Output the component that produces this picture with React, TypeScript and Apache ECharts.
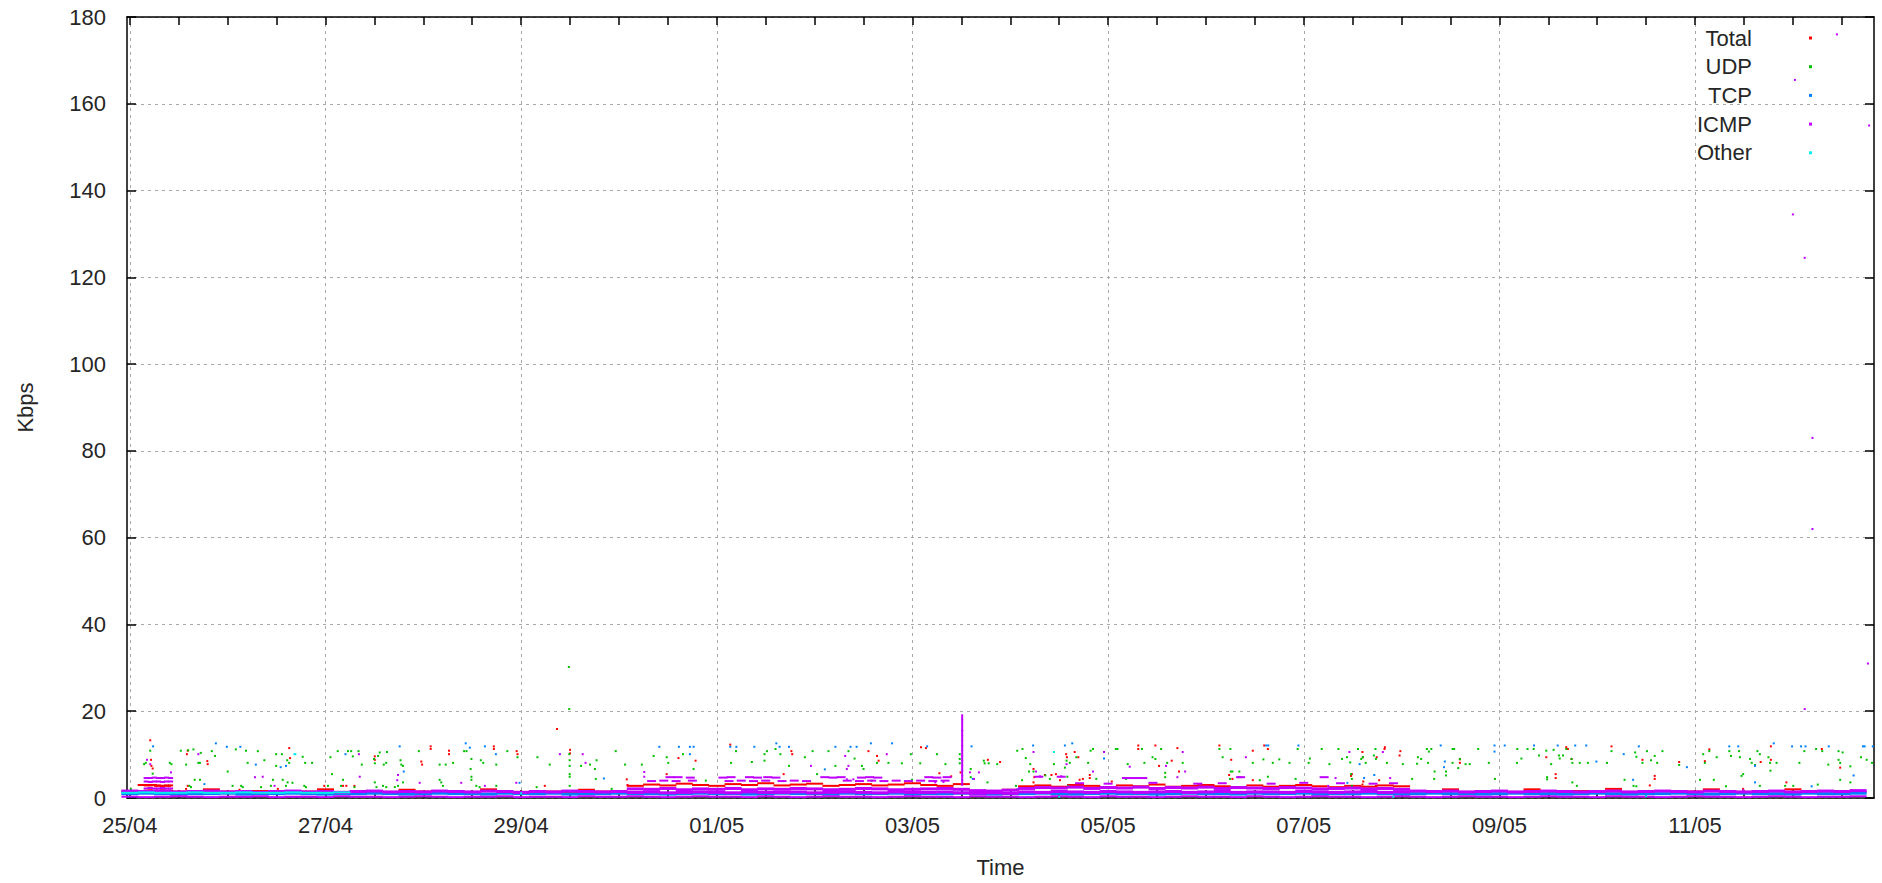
import React, { useEffect, useRef } from "react";
import * as echarts from "echarts";

// ---------- data ----------
const START_DATE_UTC = Date.UTC(2000, 3, 25); // 25/04, x values are hours since then
const X_MIN_HOURS = -0.7;
const X_MAX_HOURS = 427.9;
const BASE_STEP = 4; // hours between the baseline samples
const MID_START = 124; // first hour of the icmpMid samples

const legendNames = ["Total", "UDP", "TCP", "ICMP", "Other"];
const yTicks = [0, 20, 40, 60, 80, 100, 120, 140, 160, 180];
// x ticks every 12 h, labels / grid every 48 h (hours since 25/04 00:00)
const xTickHours = [
  0, 12, 24, 36, 48, 60, 72, 84, 96, 108, 120, 132, 144, 156, 168, 180, 192, 204, 216, 228, 240,
  252, 264, 276, 288, 300, 312, 324, 336, 348, 360, 372, 384, 396, 408, 420,
];
const xLabelHours = [0, 48, 96, 144, 192, 240, 288, 336, 384];

// baseline samples every 4 h (Kbps)
const totalBase = [
  1.5, 3.0, 2.8, 1.5, 1.4, 2.0, 1.5, 1.4, 1.6, 1.5,
  1.4, 1.5, 2.0, 1.4, 1.5, 1.6, 1.4, 1.9, 1.5, 1.4,
  1.5, 1.4, 2.0, 1.5, 1.4, 1.6, 1.5, 1.4, 1.9, 1.5,
  1.4, 2.8, 3.1, 2.9, 3.3, 3.0, 2.8, 3.2, 3.0, 3.4,
  2.9, 3.1, 3.3, 2.8, 3.0, 3.2, 2.9, 3.1, 3.4, 3.0,
  2.8, 3.2, 1.6, 1.5, 1.9, 2.7, 2.9, 2.6, 3.0, 2.8,
  2.5, 2.9, 2.7, 3.1, 2.6, 2.8, 3.0, 2.7, 2.5, 2.9,
  2.6, 2.8, 3.0, 2.7, 2.5, 2.8, 2.6, 2.9, 2.7, 1.5,
  1.5, 2.0, 1.4, 1.5, 1.6, 1.4, 2.0, 1.5, 1.4, 1.6,
  1.5, 2.1, 1.4, 1.5, 1.6, 1.4, 1.5, 2.0, 1.5, 1.4,
  1.5, 1.6, 2.0, 1.4, 1.5, 1.6, 1.4, 1.5,
];
const icmpHigh = [
  1.6, 1.5, 1.6, 1.4, 1.5, 1.6, 1.4, 1.5, 1.3, 1.5,
  1.6, 1.4, 1.5, 1.3, 1.5, 1.6, 1.4, 1.5, 1.4, 1.6,
  1.5, 1.4, 1.6, 1.5, 1.3, 1.5, 1.4, 1.6, 1.5, 1.4,
  1.5, 2.1, 2.0, 2.2, 1.9, 2.1, 2.0, 2.2, 1.9, 2.1,
  2.0, 2.2, 2.1, 1.9, 2.0, 2.2, 2.1, 1.9, 2.0, 2.1,
  2.2, 2.0, 1.7, 1.6, 1.8, 2.2, 2.4, 2.3, 2.5, 2.2,
  2.4, 2.3, 2.5, 2.2, 2.4, 2.3, 2.5, 2.2, 2.4, 2.3,
  2.2, 2.4, 2.3, 2.1, 2.2, 2.3, 2.1, 2.2, 2.0, 1.6,
  1.5, 1.6, 1.4, 1.5, 1.6, 1.4, 1.5, 1.6, 1.5, 1.4,
  1.5, 1.6, 1.4, 1.5, 1.6, 1.5, 1.4, 1.6, 1.5, 1.4,
  1.5, 1.6, 1.4, 1.5, 1.6, 1.5, 1.7, 1.5,
];
const icmpLow = [
  0.3, 0.2, 0.3, 0.4, 0.3, 0.2, 0.3, 0.3, 0.4, 0.2,
  0.3, 0.3, 0.2, 0.4, 0.3, 0.3, 0.2, 0.3, 0.4, 0.3,
  0.2, 0.3, 0.3, 0.4, 0.2, 0.3, 0.3, 0.2, 0.4, 0.3,
  0.3, 0.4, 0.3, 0.2, 0.3, 0.4, 0.3, 0.3, 0.2, 0.4,
  0.3, 0.2, 0.3, 0.4, 0.3, 0.3, 0.2, 0.3, 0.4, 0.3,
  0.3, 0.2, 0.4, 0.3, 0.3, 0.2, 0.3, 0.4, 0.3, 0.2,
  0.4, 0.3, 0.3, 0.2, 0.3, 0.4, 0.3, 0.3, 0.2, 0.4,
  0.3, 0.2, 0.3, 0.4, 0.3, 0.3, 0.2, 0.3, 0.4, 0.3,
  0.2, 0.3, 0.4, 0.3, 0.3, 0.2, 0.3, 0.4, 0.3, 0.3,
  0.2, 0.4, 0.3, 0.3, 0.2, 0.3, 0.4, 0.3, 0.3, 0.2,
  0.3, 0.4, 0.3, 0.2, 0.3, 0.3, 0.4, 0.3,
];
const icmpMid = [
  1.3, 1.4, 1.2, 1.3, 1.4, 1.3, 1.2, 1.4, 1.3, 1.3, 1.4, 1.2, 1.3, 1.4, 1.3, 1.2, 1.4, 1.3, 1.3, 1.4, 1.2,
  1.1, 1.2, 1.1,
  1.4, 1.3, 1.5, 1.4, 1.3, 1.5, 1.4, 1.3, 1.4, 1.5, 1.3, 1.4, 1.5, 1.3, 1.4, 1.4, 1.3, 1.5, 1.4, 1.3, 1.4, 1.5, 1.3, 1.4,
];
const tcpBase = [
  1.0, 1.1, 1.0, 0.9, 1.0, 1.0, 1.1, 0.9, 1.0, 1.0,
  1.1, 1.0, 0.9, 1.0, 1.0, 1.1, 1.0, 0.9, 1.0, 1.1,
  1.0, 1.0, 0.9, 1.1, 1.0, 1.0, 1.1, 0.9, 1.0, 1.0,
  1.1, 1.0, 1.0, 0.9, 1.0, 1.1, 1.0, 1.0, 0.9, 1.0,
  1.1, 1.0, 1.0, 0.9, 1.1, 1.0, 1.0, 1.1, 0.9, 1.0,
  1.0, 1.1, 1.0, 0.9, 1.0, 1.0, 1.1, 1.0, 0.9, 1.0,
  1.1, 1.0, 1.0, 0.9, 1.0, 1.1, 1.0, 1.0, 0.9, 1.1,
  1.0, 1.0, 1.1, 0.9, 1.0, 1.0, 1.1, 1.0, 0.9, 1.0,
  1.1, 1.0, 1.0, 0.9, 1.0, 1.1, 1.0, 1.0, 0.9, 1.0,
  1.1, 1.0, 0.9, 1.0, 1.0, 1.1, 1.0, 0.9, 1.0, 1.1,
  1.0, 1.0, 0.9, 1.1, 1.0, 1.0, 1.1, 1.0,
];
const otherBase = [
  [0, 1.2], [4, 1.3], [8, 1.2], [12, 1.2], [16, 1.3], [20, 1.2], [24, 1.2],
  [28, 1.3], [32, 1.2], [36, 1.2], [40, 1.3], [44, 1.2], [48, 1.2], [52, 1.3],
];

// dense bursts [hour, Kbps]
const totalBurst = [
  [4, 2.9], [5, 2.9], [6, 3.0], [7, 2.9], [8, 2.8], [9, 2.9], [10, 2.9],
  [4, 1.7], [5, 1.8], [6, 1.7], [7, 1.7], [8, 1.8], [9, 1.7], [10, 1.7],
];
const icmpBurst = [
  [4, 4.6], [5, 4.6], [6, 4.7], [7, 4.6], [8, 4.6], [9, 4.7], [10, 4.6],
  [4, 3.8], [5, 3.7], [6, 3.8], [7, 3.8], [8, 3.7], [9, 3.8], [10, 3.8],
  [4, 2.2], [5, 2.3], [6, 2.2], [7, 2.2], [8, 2.3], [9, 2.2], [10, 2.2],
];
const icmpTop = [
  [132.5, 4.8], [134.5, 4.8], [137.5, 4.7], [145.5, 4.7], [147.5, 4.8], [152, 4.8], [154, 4.7],
  [156.5, 4.8], [158.5, 4.7], [170.5, 4.8], [172.5, 4.7], [174.5, 4.8], [179.5, 4.7], [181.5, 4.8],
  [183.5, 4.7], [196, 4.8], [198, 4.7], [200.5, 4.8],
  [128, 3.9], [131, 4.0], [134, 3.9], [138, 4.0], [147, 3.9], [150, 4.0], [153, 3.9], [156, 4.0],
  [160, 3.9], [163, 4.0], [166, 3.9], [176, 4.0], [179, 3.9], [182, 4.0], [185, 3.9], [188, 4.0],
  [191, 3.9], [194, 4.0], [197, 3.9], [200, 4.0],
  [223, 4.9], [228.5, 4.9], [244.5, 4.6], [246.5, 4.6], [248.5, 4.6], [272.5, 4.8], [293, 4.8],
  [233, 3.4], [240, 3.3], [251, 3.5], [262, 3.3], [268, 3.4], [280, 3.3], [288, 3.5], [297, 3.4],
  [305, 3.3], [310, 3.4],
];
const icmpSpike = [
  [204.2, 18.6], [204.2, 17.4], [204.2, 16.1], [204.2, 15.0], [204.2, 13.8], [204.2, 12.6], [204.2, 11.5],
  [204.2, 10.3], [204.2, 9.2], [204.2, 8.1], [204.2, 6.9], [204.2, 5.8], [204.2, 4.6], [204.2, 3.5],
];

// scattered samples [hour, Kbps]
const totalPoints = [
  [5.0, 13.3], [5.2, 8.8], [5.3, 7.4], [5.6, 6.8], [14.2, 10.9], [14.0, 10.1], [19.0, 8.5], [19.1, 7.8],
  [39.1, 11.5], [39.3, 9.2], [47.7, 2.8], [52.3, 2.8], [53.1, 2.8], [55.1, 2.8], [60.1, 9.6], [60.1, 8.8],
  [71.5, 8.4], [71.7, 7.7], [73.8, 11.9], [73.8, 11.3], [78.3, 10.9], [78.3, 10.1], [89.3, 11.9], [89.3, 11.3],
  [14.2, 2.8], [13.8, 2.1], [26.9, 1.9], [36.3, 2.1],
  [94.9, 10.8], [95.1, 10.1], [104.8, 15.9], [108.0, 11.1], [108.0, 10.3], [121.9, 4.3], [122.1, 3.0],
  [134.6, 9.2], [138.8, 8.6], [147.3, 12.3], [162.3, 10.8], [162.5, 10.1], [181.2, 10.8], [183.3, 9.7],
  [183.7, 8.6], [131.7, 5.5], [160.4, 5.5], [101.8, 2.8],
  [194.1, 11.7], [195.3, 11.5], [198.6, 5.7], [201.5, 5.0], [210.5, 8.8], [213.5, 8.3], [203.8, 5.9],
  [221.7, 6.7], [221.9, 4.8], [221.7, 3.6], [226.1, 5.3], [227.2, 5.5], [228.2, 4.1], [231.8, 10.6],
  [232.7, 9.4], [235.5, 4.6], [235.5, 5.3], [240.9, 3.8], [247.4, 12.1], [247.4, 11.3], [251.6, 12.1],
  [252.5, 7.4], [255.6, 8.6], [257.0, 11.5], [257.4, 6.1], [267.3, 12.1], [270.2, 8.8], [269.7, 5.3],
  [270.5, 4.4], [275.5, 10.9], [275.5, 4.1], [278.3, 12.1], [279.2, 11.3], [229.7, 10.1], [229.9, 9.4],
  [233.0, 4.2], [233.8, 4.4], [224.5, 5.3],
  [299.8, 5.5], [302.6, 3.8], [305.9, 9.4], [306.5, 4.1], [307.9, 11.7], [311.7, 10.8], [302.4, 10.6],
  [302.5, 9.4], [307.8, 11.3], [311.5, 9.8], [299.6, 5.1], [302.4, 3.1], [326.3, 8.9], [326.3, 8.1],
  [347.5, 9.4], [349.8, 5.5], [349.8, 4.6], [352.4, 11.7], [352.8, 11.3], [353.7, 9.0], [305.7, 2.8],
  [363.5, 11.9], [371.1, 8.8], [374.1, 5.1], [374.1, 4.4], [380.1, 8.3], [386.4, 8.5], [387.5, 11.2],
  [400.1, 8.3], [402.6, 11.9], [402.6, 8.8], [406.4, 3.6], [415.1, 11.3], [419.6, 7.0], [422.5, 1.8],
  [372.9, 2.9], [395.8, 2.1],
];
const udpPoints = [
  [3.5, 7.8], [3.9, 8.1], [5.6, 5.6], [5.0, 10.9], [9.8, 8.1], [10.2, 7.8], [12.5, 10.9], [14.3, 11.0],
  [15.6, 11.2], [13.8, 7.7], [16.8, 8.1], [17.2, 8.1], [17.4, 10.4], [20.1, 10.8], [20.9, 9.7], [24.0, 6.1],
  [26.0, 11.2], [28.5, 10.9], [28.9, 8.1], [31.4, 10.8], [33.0, 8.7], [35.9, 10.1], [35.9, 7.4], [37.3, 10.1],
  [38.6, 8.7], [39.1, 8.1], [42.4, 9.5], [43.0, 8.1], [44.7, 8.1], [49.2, 9.4], [51.0, 10.8], [53.5, 10.8],
  [54.3, 10.8], [54.7, 9.6], [56.1, 10.8], [56.9, 7.7], [61.3, 10.5], [60.9, 9.7], [59.9, 9.0], [60.1, 8.0],
  [62.3, 7.7], [63.1, 10.6], [62.9, 8.1], [66.4, 8.7], [66.6, 7.7], [67.0, 7.4], [70.9, 10.8], [76.0, 7.7],
  [77.5, 7.7], [79.3, 8.1], [82.0, 10.8], [82.6, 10.8], [83.8, 9.0], [83.6, 6.7], [83.8, 4.9], [83.8, 4.2],
  [86.1, 8.7], [86.7, 8.1], [89.9, 7.7],
  [15.9, 4.2], [17.2, 4.2], [25.2, 2.8], [27.3, 2.8], [27.7, 2.5], [32.2, 2.5], [34.6, 2.8], [35.1, 4.2],
  [37.5, 4.2], [38.7, 3.6], [38.3, 2.8], [39.9, 3.5], [42.8, 2.8], [43.2, 2.5], [48.6, 2.8], [49.6, 5.5],
  [52.3, 4.2], [51.8, 2.8], [55.1, 2.5], [60.1, 3.6], [60.5, 2.5], [62.1, 2.8], [62.9, 2.5], [65.0, 2.5],
  [65.8, 2.8], [67.0, 3.6], [76.0, 4.2], [76.4, 3.6], [76.8, 2.8], [85.0, 2.8], [85.8, 2.5], [89.9, 2.8],
  [0.25, 2.1], [14.6, 2.8], [15.0, 2.5],
  [92.6, 10.8], [95.1, 9.4], [100.0, 9.4], [103.0, 7.7], [107.7, 30.2], [107.8, 20.5], [107.8, 10.1],
  [107.9, 8.7], [107.9, 7.4], [107.9, 5.5], [107.9, 4.9], [107.9, 2.8], [110.7, 7.4], [112.9, 7.7],
  [114.1, 6.7], [114.5, 8.7], [114.3, 4.4], [118.2, 2.1], [119.2, 10.8], [121.5, 7.7], [125.6, 7.7],
  [128.5, 9.7], [131.7, 9.4], [132.1, 8.1], [135.7, 10.1], [138.3, 6.7], [141.3, 4.0], [147.5, 8.1],
  [148.7, 10.8], [152.6, 8.3], [155.7, 10.1], [155.7, 8.6], [156.3, 10.8], [158.4, 11.3], [159.6, 10.1],
  [161.7, 7.4], [165.6, 9.4], [167.5, 10.8], [168.6, 5.5], [171.4, 10.8], [173.1, 7.4], [176.3, 10.8],
  [177.8, 9.1], [179.6, 7.4], [180.0, 6.7], [182.0, 4.0], [183.3, 8.1], [186.1, 8.1], [99.8, 2.5],
  [189.4, 8.0], [191.6, 10.1], [193.9, 8.0], [198.0, 10.1], [200.1, 7.8], [203.6, 10.1], [203.6, 9.0],
  [203.6, 8.0], [206.3, 6.7], [209.5, 8.6], [209.7, 8.0], [210.7, 8.0], [212.8, 7.8], [217.7, 10.9],
  [217.4, 2.8], [191.9, 4.2], [206.3, 4.8], [210.4, 3.6],
  [219.0, 11.3], [219.8, 9.2], [220.9, 7.8], [220.6, 6.1], [221.7, 6.1], [218.9, 4.1], [224.6, 5.2],
  [225.7, 4.4], [226.7, 7.8], [229.4, 7.0], [229.8, 8.6], [230.0, 4.9], [230.2, 2.8], [230.6, 8.1],
  [232.2, 9.4], [235.1, 8.1], [235.7, 10.9], [236.3, 11.3], [237.1, 4.4], [241.9, 11.3], [242.3, 11.3],
  [244.4, 4.4], [244.8, 7.8], [248.3, 11.3], [248.9, 8.1], [250.9, 9.4], [251.6, 9.0], [253.0, 11.3],
  [254.0, 5.8], [254.0, 4.8], [254.5, 8.1], [258.3, 8.1], [267.3, 11.3], [268.1, 9.4], [270.0, 11.3],
  [270.1, 6.1], [270.5, 6.1], [272.2, 6.1], [269.9, 4.4], [271.9, 4.8], [275.5, 8.1], [277.2, 4.1],
  [278.1, 8.9], [279.2, 4.9], [280.4, 8.1], [282.0, 8.9], [284.5, 8.1], [286.0, 4.4], [286.5, 11.3],
  [289.2, 8.1], [289.5, 9.1], [292.4, 11.3], [294.3, 7.8], [296.5, 11.3], [297.4, 9.0], [298.6, 9.4],
  [299.4, 8.2], [299.6, 5.5], [299.8, 4.4], [301.3, 11.3], [302.1, 9.0], [302.5, 9.4], [303.2, 8.1],
  [305.2, 9.8], [305.6, 11.3], [305.7, 9.0], [308.4, 8.1], [312.3, 7.8], [314.6, 4.4], [316.0, 9.4],
  [316.8, 9.0], [315.8, 7.9], [318.2, 11.3], [319.3, 11.3], [318.7, 10.7], [318.5, 8.1], [320.1, 6.1],
  [320.0, 4.4], [322.9, 6.1], [322.9, 5.2], [324.5, 11.3], [324.9, 11.3], [324.5, 8.1], [325.9, 6.9],
  [326.3, 9.0], [327.7, 7.8], [328.7, 7.8], [330.8, 11.3], [333.4, 8.1], [334.9, 4.4], [340.4, 11.3],
  [341.4, 9.1], [340.3, 8.1], [342.9, 11.3], [344.4, 11.3], [345.7, 9.8], [347.5, 10.9], [347.7, 4.8],
  [347.7, 4.3], [348.7, 7.8], [349.3, 11.1], [350.6, 9.8], [350.8, 9.1], [351.6, 9.8], [352.4, 11.3],
  [353.7, 9.0], [353.9, 8.1], [353.9, 3.6], [355.7, 8.1], [357.7, 8.1], [355.0, 2.8], [299.8, 2.8],
  [363.5, 10.8], [362.4, 8.1], [366.7, 4.2], [369.3, 10.5], [369.6, 9.5], [371.1, 8.1], [372.2, 10.8],
  [373.2, 8.7], [374.1, 9.7], [374.7, 8.1], [376.0, 10.8], [380.1, 7.6], [368.9, 2.8], [369.6, 2.7],
  [385.2, 4.2], [386.0, 10.1], [386.4, 8.1], [387.5, 10.8], [388.6, 4.2], [389.3, 9.4], [392.4, 10.8],
  [392.8, 9.7], [394.8, 10.8], [395.0, 9.4], [395.4, 5.1], [395.8, 5.5], [397.5, 9.0], [397.9, 8.1],
  [399.3, 10.8], [398.7, 7.6], [399.9, 10.1], [402.0, 9.4], [402.4, 8.1], [402.5, 6.3], [404.0, 8.1],
  [406.1, 2.8], [408.1, 2.8], [409.6, 8.1], [410.8, 10.8], [413.7, 11.3], [414.1, 3.1], [415.2, 10.8],
  [416.7, 7.7], [419.2, 10.8], [419.2, 8.8], [419.6, 8.1], [419.6, 4.2], [420.2, 10.5], [422.1, 7.3],
  [422.1, 3.6], [424.7, 9.4], [426.1, 8.8], [427.4, 8.1], [391.6, 2.7], [399.9, 2.8],
];
const tcpPoints = [
  [5.7, 11.9], [21.1, 12.6], [23.8, 11.8], [27.1, 11.8], [30.9, 7.7], [37.0, 7.1], [38.3, 7.4], [52.9, 10.1],
  [66.2, 11.9], [67.2, 6.1], [82.4, 12.6], [83.4, 11.6], [87.1, 11.9], [89.8, 10.1], [18.3, 3.2],
  [95.6, 3.5], [116.3, 4.5], [129.9, 11.8], [134.7, 11.8], [137.4, 11.8], [138.3, 11.8], [137.4, 10.1],
  [147.3, 11.8], [148.8, 11.8], [153.2, 11.8], [158.6, 12.6], [159.4, 11.8], [161.7, 11.8], [170.5, 6.6],
  [173.1, 11.8], [176.8, 11.8], [178.3, 11.8], [181.8, 12.6], [187.0, 12.6],
  [195.6, 11.9], [206.5, 11.9], [206.8, 4.4], [217.7, 2.0],
  [221.6, 12.1], [229.4, 12.1], [231.2, 12.6], [239.0, 9.1], [278.8, 12.1], [279.3, 12.1], [286.7, 12.1],
  [301.7, 7.8], [305.3, 5.3], [298.7, 3.5], [302.8, 4.6], [311.5, 2.1], [321.6, 12.1], [322.6, 8.4],
  [322.4, 7.1], [334.8, 12.1], [337.3, 12.1], [334.8, 10.7], [344.5, 12.1], [350.3, 12.1], [354.6, 12.1],
  [357.3, 12.1], [359.8, 8.4],
  [366.5, 10.1], [370.2, 11.9], [368.8, 4.2], [382.0, 7.1], [392.4, 11.9], [394.6, 11.9], [398.7, 7.4],
  [398.7, 3.6], [403.3, 12.6], [407.8, 11.9], [410.0, 11.9], [411.1, 11.9], [412.6, 2.7], [416.8, 11.9],
  [422.9, 5.2], [425.2, 11.9], [425.6, 11.9], [427.6, 11.9],
];
const icmpPoints = [
  [4.2, 8.8], [5.0, 7.8], [10.1, 5.9], [16.8, 10.1], [30.7, 4.8], [32.6, 4.9], [35.5, 2.8], [56.2, 10.1],
  [56.4, 4.9], [65.8, 5.3], [65.6, 4.1], [71.1, 3.5], [81.3, 3.5], [87.1, 2.8], [94.8, 3.5],
  [105.5, 10.1], [111.1, 10.1], [111.8, 8.1], [126.2, 6.0], [126.2, 4.9], [175.5, 9.7], [176.3, 7.4],
  [175.9, 6.7], [185.7, 10.1], [175.9, 4.3], [177.5, 4.3], [167.1, 7.4],
  [206.1, 5.9], [208.3, 5.9], [207.1, 4.4], [197.6, 3.6], [199.6, 3.7],
  [221.7, 10.6], [222.3, 6.1], [223.3, 5.0], [228.5, 5.0], [229.8, 7.8], [236.3, 6.1], [239.0, 10.6],
  [245.3, 7.2], [254.2, 7.4], [257.0, 4.8], [258.3, 10.6], [258.9, 6.1], [273.8, 9.4], [272.4, 4.8],
  [294.0, 2.8], [299.2, 10.6], [307.4, 10.6], [309.2, 4.6], [295.8, 4.6], [395.8, 1.8],
  [418.8, 176], [408.5, 165.5], [426.7, 155], [408.0, 134.5], [410.9, 124.5], [412.8, 83], [412.8, 62],
  [426.4, 31], [410.9, 20.5],
];
const otherPoints = [
  [40.4, 10.1], [40.6, 10.1], [226.7, 10.6], [96, 1.1], [228, 0.3], [310, 0.3], [372, 0.4],
];

// ---------- styling ----------
const COLORS = { Total: "#ff0000", UDP: "#00c000", TCP: "#0080ff", ICMP: "#c000ff", Other: "#00eeee" };
const FONT = "'Liberation Sans', Arial, Helvetica, sans-serif";
const TEXT_COLOR = "#262626";
const AXIS_LINE = { color: "#000", width: 1.5 };
const GRID_LINE = { color: "#a8a8a8", type: [3, 4] as number[], width: 1 };

const pad2 = (n: number) => (n < 10 ? "0" + n : String(n));
const dayLabel = (h: number) => {
  const d = new Date(START_DATE_UTC + h * 3600000);
  return pad2(d.getUTCDate()) + "/" + pad2(d.getUTCMonth() + 1);
};
const sampled = (arr: number[], start = 0) => arr.map((v, i) => [start + i * BASE_STEP, v]);

function scatter(name: string, data: number[][], size: number | number[]) {
  return {
    name,
    type: "scatter",
    data,
    symbol: "rect",
    symbolSize: size,
    itemStyle: { color: (COLORS as any)[name], opacity: 1 },
    silent: true,
    clip: true,
    xAxisIndex: 0,
    yAxisIndex: 0,
  };
}

function buildOption() {
  const baseW = [17, 3];
  const xCommon = { type: "value", min: X_MIN_HOURS, max: X_MAX_HOURS };
  return {
    animation: false,
    backgroundColor: "#ffffff",
    textStyle: { fontFamily: FONT },
    grid: { left: 127, right: 8, top: 17, bottom: 84, containLabel: false },
    legend: {
      data: legendNames,
      orient: "vertical",
      right: 70,
      top: 25,
      padding: 0,
      align: "right",
      icon: "rect",
      itemWidth: 3,
      itemHeight: 3,
      itemGap: 2.7,
      selectedMode: false,
      textStyle: { fontFamily: FONT, fontSize: 22, color: TEXT_COLOR, lineHeight: 26, padding: [0, 52, 0, 0] },
    },
    xAxis: [
      {
        ...xCommon,
        position: "bottom",
        axisLine: { show: true, onZero: false, lineStyle: AXIS_LINE },
        axisTick: { show: true, inside: true, length: 8, lineStyle: AXIS_LINE, customValues: xTickHours },
        axisLabel: {
          customValues: xLabelHours,
          formatter: (v: number) => dayLabel(v),
          fontFamily: FONT,
          fontSize: 22,
          color: TEXT_COLOR,
          margin: 16,
        },
        splitLine: { show: false },
        name: "Time",
        nameLocation: "middle",
        nameGap: 58,
        nameTextStyle: { fontFamily: FONT, fontSize: 22, color: TEXT_COLOR },
      },
      {
        ...xCommon,
        position: "top",
        axisLine: { show: true, onZero: false, lineStyle: AXIS_LINE },
        axisTick: { show: true, inside: true, length: 8, lineStyle: AXIS_LINE, customValues: xTickHours },
        axisLabel: { show: false },
        splitLine: { show: false },
      },
      {
        ...xCommon,
        position: "bottom",
        axisLine: { show: false },
        axisTick: { show: false, customValues: xLabelHours },
        axisLabel: { show: false, customValues: xLabelHours },
        splitLine: { show: true, lineStyle: GRID_LINE },
      },
    ],
    yAxis: [
      {
        type: "value",
        position: "left",
        min: yTicks[0],
        max: yTicks[yTicks.length - 1],
        interval: yTicks[1] - yTicks[0],
        axisLine: { show: true, onZero: false, lineStyle: AXIS_LINE },
        axisTick: { show: true, inside: true, length: 9, lineStyle: AXIS_LINE },
        axisLabel: { fontFamily: FONT, fontSize: 22, color: TEXT_COLOR, margin: 21 },
        splitLine: { show: true, lineStyle: GRID_LINE },
        name: "Kbps",
        nameLocation: "middle",
        nameRotate: 90,
        nameGap: 91,
        nameTextStyle: { fontFamily: FONT, fontSize: 22, color: TEXT_COLOR },
      },
      {
        type: "value",
        position: "right",
        min: yTicks[0],
        max: yTicks[yTicks.length - 1],
        interval: yTicks[1] - yTicks[0],
        axisLine: { show: true, onZero: false, lineStyle: AXIS_LINE },
        axisTick: { show: true, inside: true, length: 9, lineStyle: AXIS_LINE },
        axisLabel: { show: false },
        splitLine: { show: false },
      },
    ],
    series: [
      scatter("Total", sampled(totalBase), [17, 2]),
      scatter("Total", totalBurst, [5, 2]),
      scatter("Total", totalPoints, 2),
      scatter("UDP", udpPoints, 2),
      scatter("TCP", sampled(tcpBase), baseW),
      scatter("TCP", tcpPoints, 2),
      scatter("ICMP", sampled(icmpLow), [17, 2]),
      scatter("ICMP", sampled(icmpMid, MID_START), baseW),
      scatter("ICMP", sampled(icmpHigh), baseW),
      scatter("ICMP", icmpTop, [9, 2]),
      scatter("ICMP", icmpBurst, [5, 2]),
      scatter("ICMP", icmpSpike, [2, 6]),
      scatter("ICMP", icmpPoints, 2),
      scatter("Other", otherBase, [17, 2]),
      scatter("Other", otherPoints, 2),
    ],
  };
}

export default function App() {
  const ref = useRef<HTMLDivElement>(null);
  useEffect(() => {
    if (!ref.current) return;
    const chart = echarts.init(ref.current, undefined, { renderer: "svg" });
    chart.setOption(buildOption() as any);
    return () => chart.dispose();
  }, []);
  return (
    <div
      ref={ref}
      style={{ position: "fixed", left: 0, top: 0, width: "1882px", height: "883px", background: "#fff" }}
    />
  );
}
